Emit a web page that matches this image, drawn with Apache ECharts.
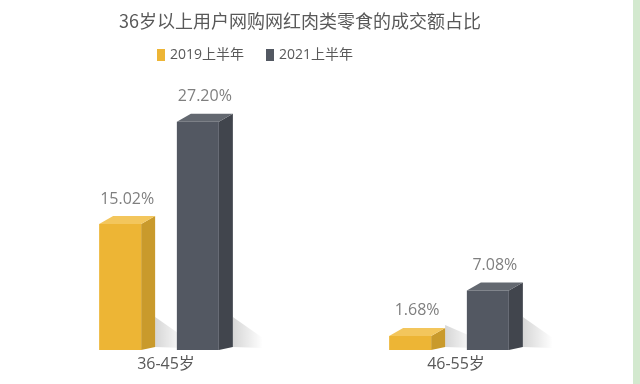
<!DOCTYPE html>
<html>
<head>
<meta charset="utf-8">
<title>36岁以上用户网购网红肉类零食的成交额占比</title>
<script src="https://cdn.jsdelivr.net/npm/echarts@6/dist/echarts.min.js"></script>
<style>
  html, body { margin: 0; padding: 0; background: #fff; }
  #chart { width: 640px; height: 384px; }
</style>
</head>
<body>
<div id="chart"></div>
<script>
// 数据
var categories = ['36-45岁', '46-55岁'];
var seriesNames = ['2019上半年', '2021上半年'];
var data2019 = [15.02, 1.68];
var data2021 = [27.20, 7.08];

// 颜色：正面、侧面、顶面
var faces = [
    { front: '#EDB535', side: '#C99A2C', top: '#F3C65C' },
    { front: '#535862', side: '#41454D', top: '#636870' }
];

var chart = echarts.init(document.getElementById('chart'));

function make3dBar(idx) {
    return function (params, api) {
        var cat = api.value(0);
        var val = api.value(1);
        var top = api.coord([cat, val]);
        var base = api.coord([cat, 0]);
        var band = api.size([1, 0])[0];
        var off = band * (idx === 0 ? -0.134 : 0.134);
        var fw = 42, dx = 14, dy = 8;
        var x0 = top[0] + off - (fw + dx) / 2;
        var x1 = x0 + fw;
        var c = faces[idx];
        var sh = Math.min(30, base[1] - top[1] + dy);
        return {
            type: 'group',
            children: [
                // 阴影
                {
                    type: 'polygon',
                    shape: { points: [[x1 + dx, base[1] - 3 - sh], [x1 + dx + 30, base[1] - 12], [x1 + dx + 30, base[1] - 2], [x1 + dx, base[1] - 3]] },
                    style: {
                        fill: new echarts.graphic.LinearGradient(0, 0, 1, 0, [
                            { offset: 0, color: 'rgba(0,0,0,0.16)' },
                            { offset: 1, color: 'rgba(0,0,0,0)' }
                        ])
                    },
                    silent: true
                },
                {
                    type: 'polygon',
                    shape: { points: [[x1, top[1]], [x1 + dx, top[1] - dy], [x1 + dx, base[1] - 3], [x1, base[1]]] },
                    style: { fill: c.side }
                },
                {
                    type: 'polygon',
                    shape: { points: [[x0, top[1]], [x0 + dx, top[1] - dy], [x1 + dx, top[1] - dy], [x1, top[1]]] },
                    style: { fill: c.top }
                },
                {
                    type: 'rect',
                    shape: { x: x0, y: top[1], width: fw, height: base[1] - top[1] },
                    style: { fill: c.front }
                },
                {
                    type: 'text',
                    style: {
                        text: val.toFixed(2) + '%',
                        x: x0 + (fw + dx) / 2,
                        y: top[1] - dy - 9,
                        align: 'center',
                        verticalAlign: 'bottom',
                        fill: '#7F7F7F',
                        font: '16px "Open Sans", "Noto Sans CJK SC", sans-serif'
                    }
                }
            ]
        };
    };
}

chart.setOption({
    backgroundColor: '#fff',
    title: {
        text: '36岁以上用户网购网红肉类零食的成交额占比',
        left: 295,
        top: 7,
        textAlign: 'center',
        textStyle: {
            fontSize: 18,
            fontWeight: 'normal',
            color: '#595959',
            fontFamily: '"Noto Sans CJK SC", sans-serif'
        }
    },
    legend: {
        top: 43,
        left: 152,
        itemWidth: 8,
        itemHeight: 12,
        itemGap: 22,
        icon: 'rect',
        textStyle: { fontSize: 14, color: '#595959', fontFamily: '"Open Sans", "Noto Sans CJK SC", sans-serif' },
        data: [
            { name: seriesNames[0], itemStyle: { color: faces[0].front } },
            { name: seriesNames[1], itemStyle: { color: faces[1].front } }
        ]
    },
    grid: { left: 21, right: 39, top: 90, bottom: 34 },
    xAxis: {
        type: 'category',
        data: categories,
        axisLine: { show: false },
        axisTick: { show: false },
        axisLabel: {
            fontSize: 16,
            color: '#595959',
            margin: 6,
            fontFamily: '"Open Sans", "Noto Sans CJK SC", sans-serif'
        }
    },
    yAxis: {
        type: 'value',
        min: 0,
        max: 31,
        show: false
    },
    graphic: [
        { type: 'rect', right: 0, top: 0, shape: { width: 7, height: 384 }, style: { fill: '#D3E9CF' } }
    ],
    series: [
        {
            name: seriesNames[0],
            type: 'custom',
            renderItem: make3dBar(0),
            itemStyle: { color: faces[0].front },
            encode: { x: 0, y: 1 },
            data: categories.map(function (c, i) { return [i, data2019[i]]; })
        },
        {
            name: seriesNames[1],
            type: 'custom',
            renderItem: make3dBar(1),
            itemStyle: { color: faces[1].front },
            encode: { x: 0, y: 1 },
            data: categories.map(function (c, i) { return [i, data2021[i]]; })
        }
    ]
});
</script>
</body>
</html>
